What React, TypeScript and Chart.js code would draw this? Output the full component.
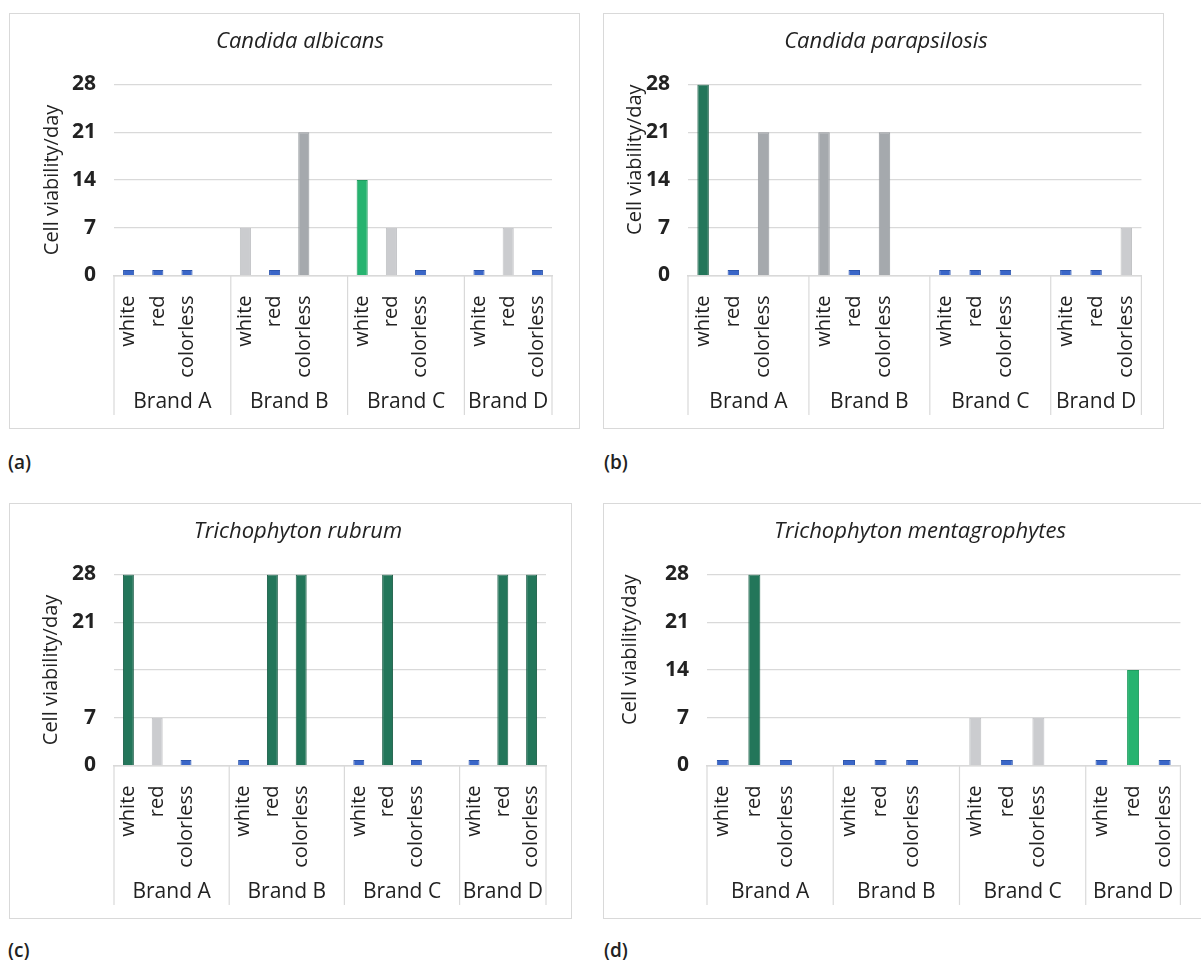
import React, { useEffect, useRef } from 'react';
import { Chart, registerables } from 'chart.js';

Chart.register(...registerables);

// ---------------- data ----------------
const brands = ['Brand A', 'Brand B', 'Brand C', 'Brand D'];
const polishColors = ['white', 'red', 'colorless'];

const titleA = 'Candida albicans';
const titleB = 'Candida parapsilosis';
const titleC = 'Trichophyton rubrum';
const titleD = 'Trichophyton mentagrophytes';

// order: Brand A (white, red, colorless), Brand B (...), Brand C (...), Brand D (...)
const valuesA = [0.8, 0.8, 0.8, 7, 0.8, 21, 14, 7, 0.8, 0.8, 7, 0.8];
const valuesB = [28, 0.8, 21, 21, 0.8, 21, 0.8, 0.8, 0.8, 0.8, 0.8, 7];
const valuesC = [28, 7, 0.8, 0.8, 28, 28, 0.8, 28, 0.8, 0.8, 28, 28];
const valuesD = [0.8, 28, 0.8, 0.8, 0.8, 0.8, 7, 0.8, 7, 0.8, 14, 0.8];

const yTicksFull = ['0', '7', '14', '21', '28'];
const yTicksC = ['0', '7', '', '21', '28'];
const yAxisTitle = 'Cell viability/day';
const panelLabels = ['(a)', '(b)', '(c)', '(d)'];

// ---------------- styling ----------------
const FONT = '"Open Sans", "Noto Sans", sans-serif';
const TEXT = '#222222';
const GRID = '#d9d9d9';

function fillFor(v: number): string {
  if (v >= 28) return '#23765a';
  if (v >= 21) return '#a5a9ad';
  if (v >= 14) return '#26b36f';
  if (v >= 7) return '#cbcccf';
  return '#3a66c8';
}
function borderFor(v: number): string {
  if (v >= 28) return '#1c5f48';
  if (v >= 21) return '#979b9f';
  if (v >= 14) return '#1f9c5f';
  if (v >= 7) return '#c0c1c4';
  return '#2c55ad';
}

// ---------------- category structure ----------------
// each brand group: its three colours, followed by an empty slot (except the last group)
const slotLabels: string[] = [];
const groupStarts: number[] = [];
brands.forEach((_, i) => {
  groupStarts.push(slotLabels.length);
  polishColors.forEach((c) => slotLabels.push(c));
  if (i < brands.length - 1) slotLabels.push('');
});
const slotCount = slotLabels.length;
const groupEdges = [...groupStarts.map((s) => s - 0.5), slotCount - 0.5];
const brandCenters = groupStarts.map((s, i) => {
  const end = i < groupStarts.length - 1 ? groupStarts[i + 1] - 1 : slotCount - 1;
  return (s + end) / 2;
});
// brand axis: half-slot grid (offset: false), index k <-> slot value (k - 1) / 2
const toHalf = (v: number) => Math.round(2 * v + 1);
const brandAxisLabels: string[] = new Array(2 * slotCount + 1).fill('');
brandCenters.forEach((c, i) => { brandAxisLabels[toHalf(c)] = brands[i]; });

function expandValues(vals: number[]): (number | null)[] {
  const out: (number | null)[] = [];
  brands.forEach((_, i) => {
    polishColors.forEach((__, j) => out.push(vals[i * polishColors.length + j]));
    if (i < brands.length - 1) out.push(null);
  });
  return out;
}

const separatorPlugin = {
  id: 'groupSeparators',
  afterDraw(chart: any) {
    const x2 = chart.scales.x2;
    const area = chart.chartArea;
    const ctx = chart.ctx;
    ctx.save();
    ctx.strokeStyle = GRID;
    ctx.lineWidth = 1.2;
    groupEdges.forEach((e) => {
      const px = x2.getPixelForValue(toHalf(e));
      ctx.beginPath();
      ctx.moveTo(px, area.bottom);
      ctx.lineTo(px, x2.bottom);
      ctx.stroke();
    });
    ctx.restore();
  },
};

type PanelCfg = {
  left: number; top: number; width: number; height: number; rightBorder: boolean;
  title: string; values: number[]; yTicks: string[];
  padLeft: number; yWidth: number; yTitlePad: number; yTitleAlign: 'center' | 'end'; rightWidth: number;
  label: string; labelLeft: number; labelTop: number;
};

const panels: PanelCfg[] = [
  { left: 9, top: 13, width: 571, height: 416, rightBorder: true, title: titleA, values: valuesA, yTicks: yTicksFull,
    padLeft: 11, yWidth: 93, yTitlePad: 19, yTitleAlign: 'center', rightWidth: 27, label: panelLabels[0], labelLeft: 8, labelTop: 450 },
  { left: 603, top: 13, width: 561, height: 416, rightBorder: true, title: titleB, values: valuesB, yTicks: yTicksFull,
    padLeft: 5, yWidth: 79, yTitlePad: 14, yTitleAlign: 'end', rightWidth: 21, label: panelLabels[1], labelLeft: 604, labelTop: 450 },
  { left: 9, top: 503, width: 563, height: 416, rightBorder: true, title: titleC, values: valuesC, yTicks: yTicksC,
    padLeft: 15, yWidth: 89, yTitlePad: 14, yTitleAlign: 'center', rightWidth: 25, label: panelLabels[2], labelLeft: 8, labelTop: 938 },
  { left: 603, top: 503, width: 598, height: 416, rightBorder: false, title: titleD, values: valuesD, yTicks: yTicksFull,
    padLeft: 35, yWidth: 68, yTitlePad: -21, yTitleAlign: 'end', rightWidth: 11, label: panelLabels[3], labelLeft: 604, labelTop: 938 },
];

function Panel({ cfg }: { cfg: PanelCfg }) {
  const ref = useRef<HTMLCanvasElement>(null);
  const cw = cfg.width - (cfg.rightBorder ? 2 : 1);
  const ch = cfg.height - 2;

  useEffect(() => {
    const canvas = ref.current!;
    const data = expandValues(cfg.values);
    const chart = new Chart(canvas, {
      type: 'bar',
      data: {
        labels: slotLabels,
        datasets: [
          {
            data,
            backgroundColor: data.map((v) => (v == null ? 'transparent' : fillFor(v))),
            borderColor: data.map((v) => (v == null ? 'transparent' : borderFor(v))),
            borderWidth: 1,
            barPercentage: 0.38,
            categoryPercentage: 1,
            xAxisID: 'x',
            yAxisID: 'y',
          } as any,
        ],
      },
      options: {
        animation: false,
        responsive: false,
        maintainAspectRatio: false,
        devicePixelRatio: 1,
        layout: { padding: { left: cfg.padLeft, right: 0, top: 0, bottom: 13 } },
        plugins: {
          legend: { display: false },
          tooltip: { enabled: false },
          title: {
            display: true,
            text: cfg.title,
            color: TEXT,
            font: { family: FONT, size: 22, style: 'italic', weight: 'normal' },
            padding: { top: 15, bottom: 29 },
          },
        },
        scales: {
          y: {
            min: 0,
            max: 28,
            border: { display: false },
            grid: { color: GRID, lineWidth: 1.2, drawTicks: false },
            ticks: {
              stepSize: 7,
              padding: 18,
              color: TEXT,
              font: { family: FONT, size: 21, weight: 'bold' },
              callback: (_v: any, i: number) => cfg.yTicks[i],
            },
            title: {
              display: true,
              text: yAxisTitle,
              color: TEXT,
              align: cfg.yTitleAlign,
              font: { family: FONT, size: 20 },
              padding: { top: cfg.yTitlePad, bottom: 0 },
            },
            afterFit: (s: any) => { s.width = cfg.yWidth; },
          },
          yRight: {
            type: 'linear',
            position: 'right',
            display: true,
            min: 0,
            max: 1,
            border: { display: false },
            grid: { display: false, drawTicks: false },
            ticks: { display: false },
            afterFit: (s: any) => { s.width = cfg.rightWidth; },
          },
          x: {
            type: 'category',
            position: 'bottom',
            border: { display: true, color: GRID, width: 1.5 },
            grid: { display: false },
            ticks: {
              autoSkip: false,
              minRotation: 90,
              maxRotation: 90,
              padding: 12,
              color: TEXT,
              font: { family: FONT, size: 20 },
            },
            afterFit: (s: any) => { s.height = 112; },
          },
          x2: {
            type: 'category',
            position: 'bottom',
            labels: brandAxisLabels,
            offset: false,
            border: { display: false },
            grid: { display: false, drawTicks: false },
            ticks: {
              autoSkip: false,
              maxRotation: 0,
              minRotation: 0,
              padding: 2,
              color: TEXT,
              font: { family: FONT, size: 21 },
            },
            afterFit: (s: any) => { s.height = 27.5; },
          },
        },
      } as any,
      plugins: [separatorPlugin as any],
    });
    return () => chart.destroy();
  }, []);

  return (
    <>
      <div
        style={{
          position: 'absolute',
          left: cfg.left,
          top: cfg.top,
          width: cw,
          height: ch,
          borderTop: `1px solid ${GRID}`,
          borderBottom: `1px solid ${GRID}`,
          borderLeft: `1px solid ${GRID}`,
          borderRight: cfg.rightBorder ? `1px solid ${GRID}` : 'none',
          background: '#fff',
        }}
      >
        <canvas ref={ref} width={cw} height={ch} style={{ display: 'block', width: cw, height: ch }} />
      </div>
      <div
        style={{
          position: 'absolute',
          left: cfg.labelLeft,
          top: cfg.labelTop,
          fontFamily: FONT,
          fontWeight: 600,
          fontSize: 19,
          lineHeight: '24px',
          color: TEXT,
        }}
      >
        {cfg.label}
      </div>
    </>
  );
}

export default function App() {
  return (
    <div style={{ position: 'absolute', left: 0, top: 0, width: 1201, height: 960, overflow: 'hidden', background: '#fff' }}>
      {panels.map((p, i) => (
        <Panel key={i} cfg={p} />
      ))}
    </div>
  );
}
